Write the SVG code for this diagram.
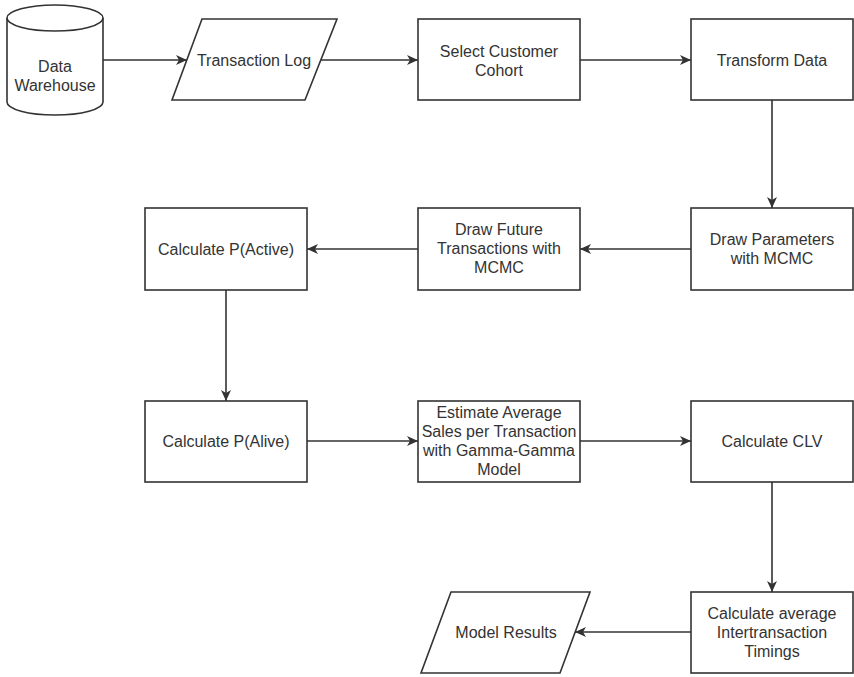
<svg xmlns="http://www.w3.org/2000/svg" width="854" height="677" viewBox="0 0 854 677">
  <style>
    .shape { fill: #ffffff; stroke: #333333; stroke-width: 1.6; }
    .edge { fill: none; stroke: #333333; stroke-width: 1.6; }
    .label { font-family: "Liberation Sans", Arial, sans-serif; font-size: 16px; fill: #333333; text-anchor: middle; }
  </style>
  <defs>
    <marker id="arrow" markerUnits="userSpaceOnUse" markerWidth="12" markerHeight="10" refX="11" refY="5" orient="auto">
      <path d="M0,0 L11,5 L0,10 L3,5 Z" fill="#333333"/>
    </marker>
  </defs>
  <rect width="854" height="677" fill="#ffffff"/>

  <!-- connectors -->
  <g id="connectors">
    <line class="edge" x1="103" y1="60" x2="187" y2="60" marker-end="url(#arrow)"/>
    <line class="edge" x1="320" y1="60" x2="418" y2="60" marker-end="url(#arrow)"/>
    <line class="edge" x1="580" y1="60" x2="691" y2="60" marker-end="url(#arrow)"/>
    <line class="edge" x1="772" y1="100" x2="772" y2="208" marker-end="url(#arrow)"/>
    <line class="edge" x1="691" y1="249" x2="580" y2="249" marker-end="url(#arrow)"/>
    <line class="edge" x1="418" y1="249" x2="307" y2="249" marker-end="url(#arrow)"/>
    <line class="edge" x1="226" y1="290" x2="226" y2="401" marker-end="url(#arrow)"/>
    <line class="edge" x1="307" y1="441" x2="418" y2="441" marker-end="url(#arrow)"/>
    <line class="edge" x1="580" y1="441" x2="691" y2="441" marker-end="url(#arrow)"/>
    <line class="edge" x1="772" y1="482" x2="772" y2="592" marker-end="url(#arrow)"/>
    <line class="edge" x1="691" y1="632" x2="575" y2="632" marker-end="url(#arrow)"/>
  </g>

  <!-- Data Warehouse (database cylinder) -->
  <g id="data-warehouse">
    <path class="shape" d="M7,18 A48,13 0 0 1 103,18 V102 A48,13 0 0 1 7,102 Z"/>
    <path class="edge" d="M7,18 A48,13 0 0 0 103,18"/>
    <text class="label" x="55" y="72">Data</text>
    <text class="label" x="55" y="91">Warehouse</text>
  </g>

  <g id="transaction-log">
    <polygon class="shape" points="202,19 337,19 305,100 172,100"/>
    <text class="label" x="254" y="66">Transaction Log</text>
  </g>

  <g id="select-cohort">
    <rect class="shape" x="418" y="19" width="162" height="81"/>
    <text class="label" x="499" y="57">Select Customer</text>
    <text class="label" x="499" y="76">Cohort</text>
  </g>

  <g id="transform-data">
    <rect class="shape" x="691" y="19" width="162" height="81"/>
    <text class="label" x="772" y="66">Transform Data</text>
  </g>

  <g id="draw-parameters">
    <rect class="shape" x="691" y="208" width="162" height="82"/>
    <text class="label" x="772" y="245">Draw Parameters</text>
    <text class="label" x="772" y="264">with MCMC</text>
  </g>

  <g id="draw-future">
    <rect class="shape" x="418" y="208" width="162" height="82"/>
    <text class="label" x="499" y="235">Draw Future</text>
    <text class="label" x="499" y="254">Transactions with</text>
    <text class="label" x="499" y="273">MCMC</text>
  </g>

  <g id="p-active">
    <rect class="shape" x="145" y="208" width="162" height="82"/>
    <text class="label" x="226" y="255">Calculate P(Active)</text>
  </g>

  <g id="p-alive">
    <rect class="shape" x="145" y="401" width="162" height="81"/>
    <text class="label" x="226" y="447">Calculate P(Alive)</text>
  </g>

  <g id="estimate-sales">
    <rect class="shape" x="418" y="401" width="162" height="81"/>
    <text class="label" x="499" y="418">Estimate Average</text>
    <text class="label" x="499" y="437">Sales per Transaction</text>
    <text class="label" x="499" y="456">with Gamma-Gamma</text>
    <text class="label" x="499" y="475">Model</text>
  </g>

  <g id="calculate-clv">
    <rect class="shape" x="691" y="401" width="162" height="81"/>
    <text class="label" x="772" y="447">Calculate CLV</text>
  </g>

  <g id="intertransaction">
    <rect class="shape" x="691" y="592" width="162" height="81"/>
    <text class="label" x="772" y="619">Calculate average</text>
    <text class="label" x="772" y="638">Intertransaction</text>
    <text class="label" x="772" y="657">Timings</text>
  </g>

  <g id="model-results">
    <polygon class="shape" points="451,592 590,592 560,673 421,673"/>
    <text class="label" x="506" y="638">Model Results</text>
  </g>
</svg>
